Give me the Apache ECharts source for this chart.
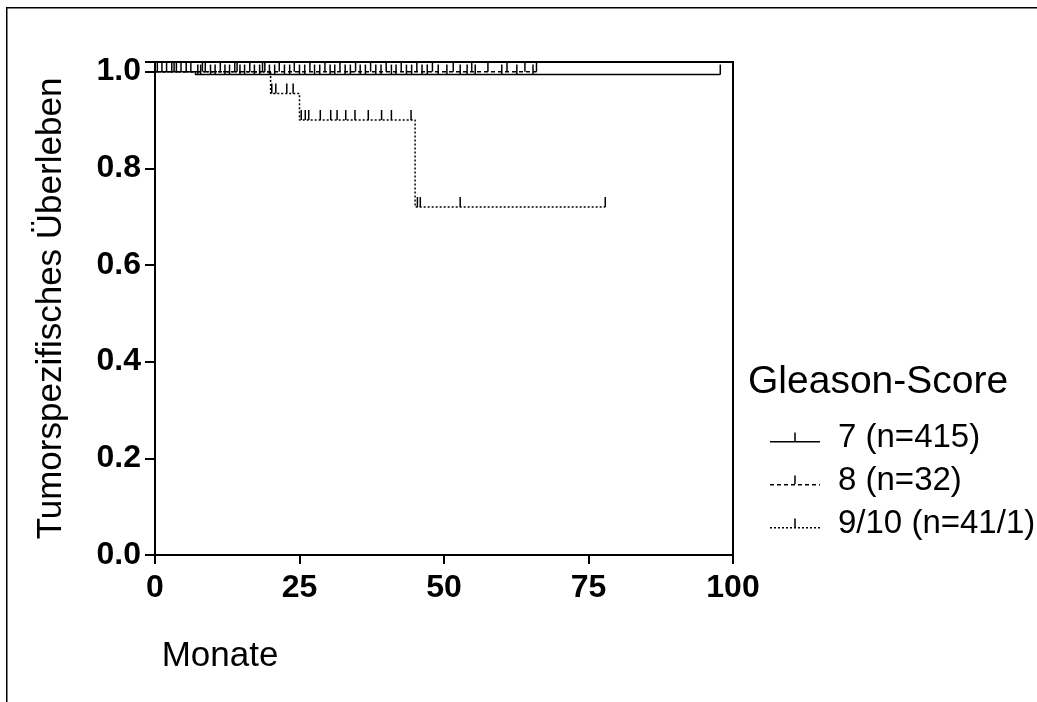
<!DOCTYPE html>
<html><head><meta charset="utf-8">
<script src="https://cdn.jsdelivr.net/npm/echarts@6/dist/echarts.min.js"></script>
<style>html,body{margin:0;padding:0;background:#fff}#c{width:1037px;height:702px}</style>
</head><body><div id="c"></div>
<script>
// ---------- data ----------
const seriesNames = ['7 (n=415)', '8 (n=32)', '9/10 (n=41/1)'];
const legendTitle = 'Gleason-Score';
const xAxisName = 'Monate';
const yAxisName = 'Tumorspezifisches Überleben';
const xTicks = [0, 25, 50, 75, 100];
const yTicks = [0.0, 0.2, 0.4, 0.6, 0.8, 1.0];

// Gleason 7: event times (months) and survival after event, censored times
const g7EventTimes = [7.0];
const g7EventSurv = [0.994];
const g7Censored = [0.4, 2.0, 2.9, 4.5, 5.4, 7.4, 7.9, 9.6, 10.4, 12.1, 12.9, 14.7, 15.5,
  17.2, 18.1, 19.8, 20.7, 22.4, 23.3, 25.0, 25.9, 27.6, 28.5, 30.3, 31.1, 32.9, 33.8,
  35.5, 36.4, 38.2, 39.1, 40.9, 41.7, 43.5, 44.4, 46.2, 47.1, 49.0, 50.5, 52.8, 54.0,
  55.4, 60.0, 62.6, 65.4, 97.8];
// Gleason 8
const g8EventTimes = [];
const g8EventSurv = [];
const g8Censored = [1.2, 3.7, 6.2, 8.7, 11.3, 13.8, 16.4, 19.0, 21.5, 24.1, 26.8, 29.4,
  32.0, 34.7, 37.3, 40.0, 42.6, 45.3, 48.0, 51.6, 54.8, 57.6, 60.9, 64.0, 66.0];
// Gleason 9/10
const g910EventTimes = [20.0, 25.0, 45.0];
const g910EventSurv = [0.955, 0.900, 0.720];
const g910Censored = [3.3, 8.2, 14.2, 18.6, 20.2, 20.9, 22.8, 23.9,
  25.3, 26.0, 26.6, 28.6, 30.4, 31.5, 33.0, 34.6, 36.9, 39.2, 40.9, 44.3,
  45.4, 45.9, 52.8, 77.9];

// ---------- build ----------
function kmData(evT, evS, cens) {
  const items = [];
  evT.forEach((t, i) => items.push({ t: t, e: true, s: evS[i] }));
  cens.forEach(t => items.push({ t: t, e: false }));
  items.sort((a, b) => (a.t - b.t) || (a.e ? -1 : 1));
  let s = 1;
  const data = [{ value: [0, 1], symbol: 'none' }];
  items.forEach(it => {
    if (it.e) { s = it.s; data.push({ value: [it.t, s], symbol: 'none' }); }
    else data.push({ value: [it.t, s] });
  });
  return data;
}

const FONT = 'Liberation Sans, Arial, sans-serif';
const dashes = [null, [4, 3], [2, 2]];
const groups = [
  kmData(g7EventTimes, g7EventSurv, g7Censored),
  kmData(g8EventTimes, g8EventSurv, g8Censored),
  kmData(g910EventTimes, g910EventSurv, g910Censored)
];

function iconPath(dash) {
  let p = 'path://';
  if (!dash) {
    p += 'M0,8.5L50,8.5L50,10L0,10Z';
  } else {
    const step = dash[0] + dash[1];
    for (let x = 0; x < 50; x += step) {
      const w = Math.min(dash[0], 50 - x);
      p += 'M' + x + ',8.5L' + (x + w) + ',8.5L' + (x + w) + ',10L' + x + ',10Z';
    }
    p += 'M49.9,8.5L50,8.5L50,10L49.9,10Z';
  }
  p += 'M24.25,0L25.75,0L25.75,8.6L24.25,8.6Z';
  return p;
}

const chart = echarts.init(document.getElementById('c'), null, { renderer: 'canvas' });
chart.setOption({
  animation: false,
  backgroundColor: '#fff',
  textStyle: { fontFamily: FONT, color: '#000' },
  grid: { left: 155, right: 304, top: 62, bottom: 147, show: true, borderColor: '#000', borderWidth: 2, backgroundColor: 'transparent' },
  title: {
    text: legendTitle, left: 748, top: 363, padding: 0,
    textStyle: { fontFamily: FONT, fontSize: 39, fontWeight: 'normal', color: '#000' }
  },
  legend: {
    orient: 'vertical', left: 770, top: 421, padding: 0,
    itemWidth: 50, itemHeight: 10, itemGap: 10,
    selectedMode: false,
    textStyle: { fontFamily: FONT, fontSize: 33, color: '#000', padding: [0, 0, 0, 13] },
    data: seriesNames.map((n, i) => ({ name: n, icon: iconPath(dashes[i]) }))
  },
  xAxis: {
    type: 'value', min: 0, max: 100, interval: 25,
    name: xAxisName, nameLocation: 'middle', nameGap: 84,
    nameTextStyle: { fontFamily: FONT, fontSize: 35, color: '#000', padding: [0, 448, 0, 0] },
    axisLine: { lineStyle: { color: '#000', width: 2 } },
    axisTick: { length: 9, lineStyle: { color: '#000', width: 2 } },
    axisLabel: { margin: 17, fontFamily: FONT, fontSize: 32, fontWeight: 'bold', color: '#000',
      formatter: v => xTicks.indexOf(v) >= 0 ? String(v) : '' },
    splitLine: { show: false }
  },
  yAxis: {
    type: 'value', min: 0, max: 1.02, interval: 0.2,
    name: yAxisName, nameLocation: 'middle', nameGap: 86,
    nameTextStyle: { fontFamily: FONT, fontSize: 35, color: '#000' },
    axisLine: { lineStyle: { color: '#000', width: 2 } },
    axisTick: { length: 10, lineStyle: { color: '#000', width: 2 } },
    axisLabel: { margin: 14, fontFamily: FONT, fontSize: 32, fontWeight: 'bold', color: '#000',
      formatter: v => {
        const k = yTicks.findIndex(t => Math.abs(t - v) < 1e-6);
        return k >= 0 ? yTicks[k].toFixed(1) : '';
      } },
    splitLine: { show: false }
  },
  graphic: [{
    type: 'rect', left: 6, top: 7, shape: { width: 1045, height: 710 },
    style: { fill: 'transparent', stroke: '#000', lineWidth: 1.5 }, silent: true
  }],
  series: groups.map((d, i) => ({
    name: seriesNames[i],
    type: 'line', step: 'end', data: d,
    symbol: 'rect', symbolSize: [1.5, 10], symbolOffset: [0, -5],
    showSymbol: true, showAllSymbol: true,
    itemStyle: { color: '#000', borderWidth: 0 },
    lineStyle: { color: '#000', width: 1.5, type: dashes[i] || 'solid' },
    emphasis: { disabled: true },
    z: 3 - i
  }))
});
</script>
</body></html>
